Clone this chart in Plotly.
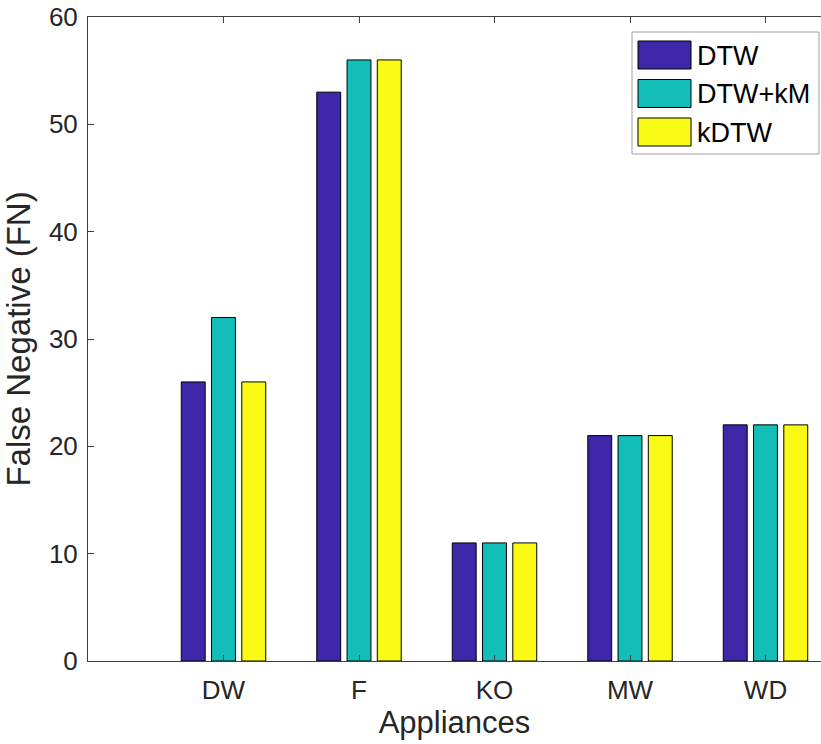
import plotly.graph_objects as go

categories = ["DW", "F", "KO", "MW", "WD"]
series_names = ["DTW", "DTW+kM", "kDTW"]
dtw = [26, 53, 11, 21, 22]
dtw_km = [32, 56, 11, 21, 22]
kdtw = [26, 56, 11, 21, 22]
colors = ["#3e26a8", "#13beb8", "#f9fb15"]
y_ticks = [0, 10, 20, 30, 40, 50, 60]

W, H = 821, 744
ML, MR, MT, MB = 88, 0, 17, 83
font = "Liberation Sans, Arial, Helvetica, sans-serif"
txt = "#262626"

x_pos = list(range(1, len(categories) + 1))
fig = go.Figure()
for name, vals, c in zip(series_names, [dtw, dtw_km, kdtw], colors):
    fig.add_trace(go.Bar(x=x_pos, y=vals, name=name, marker=dict(color=c, line=dict(color="black", width=1)),
                         showlegend=False))

pw = W - ML - MR
ph = H - MT - MB
def px_x(x):
    return (x - ML) / pw
def px_y(y):
    return (H - MB - y) / ph

# custom legend (MATLAB style)
shapes = [dict(type="rect", xref="paper", yref="paper", x0=px_x(632), x1=px_x(819), y0=px_y(154), y1=px_y(32),
               line=dict(color="#a0a0a0", width=1), fillcolor="white", layer="above")]
annotations = []
for i, (name, c) in enumerate(zip(series_names, colors)):
    top = 41 + i * 38.5
    shapes.append(dict(type="rect", xref="paper", yref="paper", x0=px_x(638), x1=px_x(691),
                       y0=px_y(top + 28), y1=px_y(top), fillcolor=c, line=dict(color="black", width=1), layer="above"))
    annotations.append(dict(xref="paper", yref="paper", x=px_x(695), y=px_y(top + 15), text=name, showarrow=False,
                            xanchor="left", yanchor="middle", font=dict(size=27, color="black", family=font)))

fig.update_layout(
    width=W, height=H,
    margin=dict(l=ML, r=MR, t=MT, b=MB, pad=0),
    paper_bgcolor="white", plot_bgcolor="white",
    barmode="group", bargap=0.33, bargroupgap=0.21,
    font=dict(family=font, size=26, color=txt),
    shapes=shapes, annotations=annotations,
    showlegend=False,
)
fig.update_xaxes(range=[0, pw / 135.5], tickvals=x_pos, ticktext=categories, ticks="inside", ticklen=6,
                 tickcolor="#404040", showline=True, linecolor="#404040", linewidth=1, mirror="ticks",
                 showgrid=False, zeroline=False, tickfont=dict(size=26, color=txt), ticklabelstandoff=6,
                 title=dict(text="Appliances", font=dict(size=31, color=txt), standoff=0))
fig.update_yaxes(range=[0, 60], tickvals=y_ticks, ticks="inside", ticklen=6, tickcolor="#404040",
                 showline=True, linecolor="#404040", linewidth=1, showgrid=False, zeroline=False,
                 tickfont=dict(size=26, color=txt), ticklabelstandoff=4,
                 title=dict(text="False Negative (FN)", font=dict(size=33, color=txt), standoff=8))

fig.write_html("out.html")
